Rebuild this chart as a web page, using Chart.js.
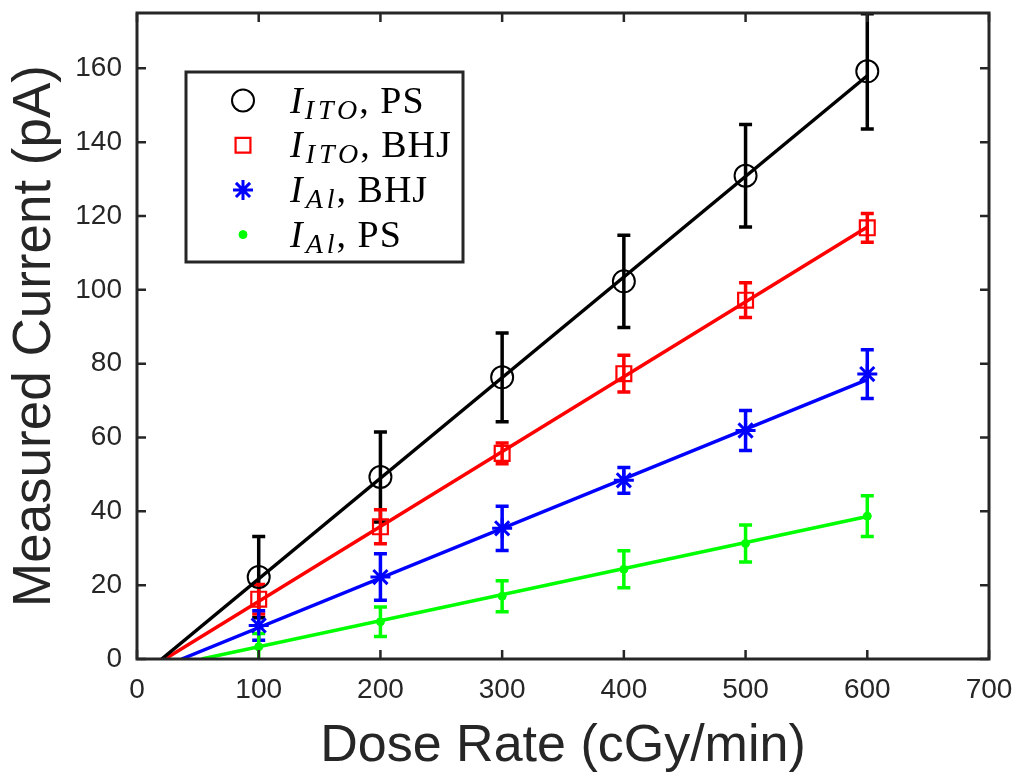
<!DOCTYPE html>
<html>
<head>
<meta charset="utf-8">
<script src="https://cdn.jsdelivr.net/npm/chart.js@4.4.1/dist/chart.umd.min.js"></script>
<style>
  html, body { margin: 0; padding: 0; background: #fff; }
</style>
</head>
<body>
<canvas id="chart" width="1016" height="773"></canvas>
<script>
  // Dose rates (cGy/min)
  const doseRates = [100, 200, 300, 400, 500, 600];

  // Measured currents (pA) with error bar half-heights
  const itoPs = [22.2, 49.3, 76.3, 102.3, 130.9, 159.2];
  const itoPsErr = [11, 12.2, 12, 12.5, 13.9, 15.6];
  const itoBhj = [16.2, 35.8, 55.7, 77.3, 97.2, 116.8];
  const itoBhjErr = [4, 4.6, 2.8, 5, 4.7, 3.9];
  const alBhj = [9.1, 22.2, 35.4, 48.4, 61.9, 77.2];
  const alBhjErr = [4, 6.3, 6, 3.5, 5.4, 6.6];
  const alPs = [3.3, 10.1, 17, 24.3, 31.3, 38.7];
  const alPsErr = [3.6, 4, 4.2, 5, 5, 5.5];

  // Linear fit end points
  const itoPsFitX = [20.3, 600], itoPsFitY = [0, 158];
  const itoBhjFitX = [23, 600], itoBhjFitY = [0, 117];
  const alBhjFitX = [36.7, 600], alBhjFitY = [0, 75.7];
  const alPsFitX = [53, 600], alPsFitY = [0, 38.6];

  // Legend text pieces
  const legendSymbol = ['I', 'I', 'I', 'I'];
  const legendSub = ['ITO', 'ITO', 'Al', 'Al'];
  const legendTail = [', PS', ', BHJ', ', BHJ', ', PS'];

  const axisColor = '#262626';
  const toPoints = (xs, ys) => xs.map((x, i) => ({ x: x, y: ys[i] }));

  const series = [
    { y: itoPs, err: itoPsErr, fx: itoPsFitX, fy: itoPsFitY, color: '#000000', style: 'circle', radius: 11, bw: 2, fill: 'transparent' },
    { y: itoBhj, err: itoBhjErr, fx: itoBhjFitX, fy: itoBhjFitY, color: '#ff0000', style: 'rect', radius: 10.5, bw: 2.2, fill: 'transparent' },
    { y: alBhj, err: alBhjErr, fx: alBhjFitX, fy: alBhjFitY, color: '#0000ff', style: 'star', radius: 10, bw: 3, fill: 'transparent' },
    { y: alPs, err: alPsErr, fx: alPsFitX, fy: alPsFitY, color: '#00ff00', style: 'circle', radius: 4, bw: 1, fill: '#00ff00' }
  ];

  const datasets = [];
  series.forEach(s => {
    datasets.push({
      data: toPoints(s.fx, s.fy),
      showLine: true,
      borderColor: s.color,
      borderWidth: 3.5,
      pointRadius: 0
    });
  });
  series.forEach(s => {
    datasets.push({
      data: toPoints(doseRates, s.y),
      showLine: false,
      pointStyle: s.style,
      pointRadius: s.radius,
      pointBorderWidth: s.bw,
      pointBorderColor: s.color,
      pointBackgroundColor: s.fill
    });
  });

  // Error bars drawn under the markers
  const errorBars = {
    id: 'errorBars',
    beforeDatasetsDraw(chart) {
      const { ctx, chartArea, scales: { x, y } } = chart;
      ctx.save();
      ctx.beginPath();
      ctx.rect(chartArea.left, chartArea.top, chartArea.right - chartArea.left, chartArea.bottom - chartArea.top);
      ctx.clip();
      ctx.lineWidth = 3.5;
      series.forEach(s => {
        ctx.strokeStyle = s.color;
        doseRates.forEach((d, i) => {
          const px = x.getPixelForValue(d);
          const top = y.getPixelForValue(s.y[i] + s.err[i]);
          const bot = y.getPixelForValue(s.y[i] - s.err[i]);
          ctx.beginPath();
          ctx.moveTo(px, top); ctx.lineTo(px, bot);
          ctx.moveTo(px - 6.5, top); ctx.lineTo(px + 6.5, top);
          ctx.moveTo(px - 6.5, bot); ctx.lineTo(px + 6.5, bot);
          ctx.stroke();
        });
      });
      ctx.restore();
    }
  };

  // Box around the plot with inward ticks on all sides
  const frame = {
    id: 'frame',
    afterDatasetsDraw(chart) {
      const { ctx, chartArea: a, scales: { x, y } } = chart;
      ctx.save();
      ctx.strokeStyle = axisColor;
      ctx.lineWidth = 2.5;
      ctx.beginPath();
      x.ticks.forEach(t => {
        const px = x.getPixelForValue(t.value);
        ctx.moveTo(px, a.bottom); ctx.lineTo(px, a.bottom - 9);
        ctx.moveTo(px, a.top); ctx.lineTo(px, a.top + 9);
      });
      y.ticks.forEach(t => {
        const py = y.getPixelForValue(t.value);
        ctx.moveTo(a.left, py); ctx.lineTo(a.left + 9, py);
        ctx.moveTo(a.right, py); ctx.lineTo(a.right - 9, py);
      });
      ctx.stroke();
      ctx.lineWidth = 3;
      ctx.strokeRect(a.left, a.top, a.right - a.left, a.bottom - a.top);
      ctx.restore();
    }
  };

  // Legend with subscripted labels
  const mathLegend = {
    id: 'mathLegend',
    afterDraw(chart) {
      const ctx = chart.ctx;
      const box = { left: 186, top: 72, right: 463, bottom: 262 };
      ctx.save();
      ctx.fillStyle = '#ffffff';
      ctx.fillRect(box.left, box.top, box.right - box.left, box.bottom - box.top);
      ctx.strokeStyle = axisColor;
      ctx.lineWidth = 3;
      ctx.strokeRect(box.left, box.top, box.right - box.left, box.bottom - box.top);

      series.forEach((s, i) => {
        const rowY = 100.5 + i * 44.7;
        ctx.strokeStyle = s.color;
        ctx.fillStyle = s.fill;
        ctx.lineWidth = s.bw;
        Chart.helpers.drawPoint(ctx, { pointStyle: s.style, radius: s.radius, borderWidth: s.bw }, 243, rowY);

        let tx = 290;
        ctx.fillStyle = '#000';
        ctx.textBaseline = 'alphabetic';
        ctx.textAlign = 'left';
        ctx.font = 'italic 38px "Liberation Serif"';
        ctx.fillText(legendSymbol[i], tx, rowY + 12);
        tx += ctx.measureText(legendSymbol[i]).width + 2;
        ctx.font = 'italic 28px "Liberation Serif"';
        ctx.letterSpacing = '4px';
        ctx.fillText(legendSub[i], tx, rowY + 18);
        tx += ctx.measureText(legendSub[i]).width - 2;
        ctx.letterSpacing = '1px';
        ctx.font = '38px "Liberation Serif"';
        ctx.fillText(legendTail[i], tx, rowY + 12);
      });
      ctx.restore();
    }
  };

  new Chart(document.getElementById('chart'), {
    type: 'scatter',
    data: { datasets: datasets },
    options: {
      responsive: false,
      animation: false,
      layout: { padding: { top: 13, right: 27, left: 0, bottom: 0 } },
      plugins: { legend: { display: false }, tooltip: { enabled: false } },
      scales: {
        x: {
          min: 0, max: 700,
          grid: { display: false, drawTicks: false },
          border: { display: false },
          ticks: { stepSize: 100, padding: 14, color: axisColor, font: { family: 'Liberation Sans', size: 28 } },
          title: {
            display: true, text: 'Dose Rate (cGy/min)', color: axisColor,
            font: { family: 'Liberation Sans', size: 52, lineHeight: 1 },
            padding: { bottom: 0, top: 0 }
          },
          afterFit(scale) {
            scale.height = 114;
            scale.paddingLeft = 0;
            scale.paddingRight = 0;
          }
        },
        y: {
          min: 0, max: 175,
          grid: { display: false, drawTicks: false },
          border: { display: false },
          ticks: { stepSize: 20, includeBounds: false, padding: 15, color: axisColor, font: { family: 'Liberation Sans', size: 28 } },
          title: {
            display: true, text: 'Measured Current (pA)', color: axisColor,
            font: { family: 'Liberation Sans', size: 53, lineHeight: 1 },
            padding: { top: 9, bottom: 0 }
          },
          afterFit(scale) {
            scale.width = 137;
            scale.paddingTop = 0;
            scale.paddingBottom = 0;
          }
        }
      }
    },
    plugins: [errorBars, frame, mathLegend]
  });
</script>
</body>
</html>
